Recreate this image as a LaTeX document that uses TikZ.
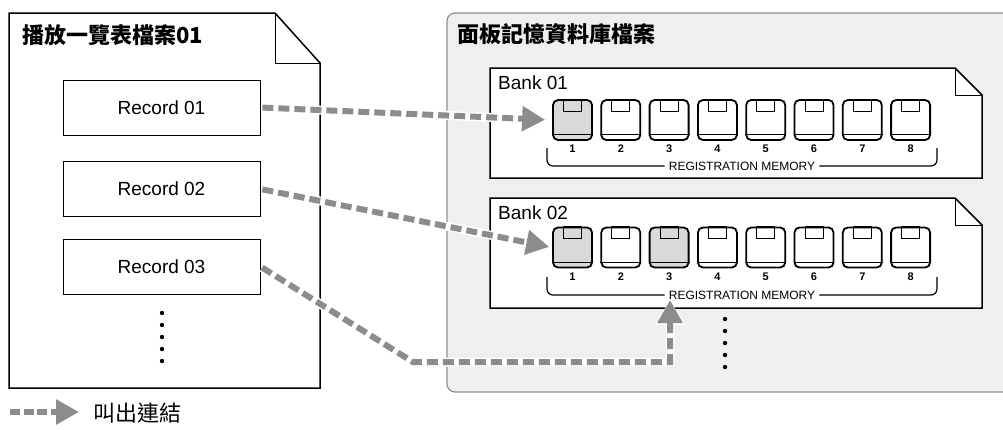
\documentclass[tikz,border=0pt]{standalone}
\usepackage{fontspec}
\setmainfont{Liberation Sans}
\newfontfamily\cjk{Noto Sans CJK TC}
\usetikzlibrary{arrows.meta}

\definecolor{linkgray}{HTML}{8C8C8C}
\definecolor{panelfill}{HTML}{EFEFEF}
\definecolor{panelline}{HTML}{8F8F8F}
\definecolor{keygray}{HTML}{D9D9D9}

\tikzset{
  docline/.style={line width=1.5pt, fill=white},
  foldline/.style={line width=1pt},
  recbox/.style={draw, line width=0.8pt, fill=white, minimum width=197pt,
    minimum height=55pt, font=\fontsize{19}{19}\selectfont},
  regbtn/.style={draw, line width=1.8pt, rounded corners=5pt, minimum width=39pt,
    minimum height=40pt, inner sep=0pt},
  numlbl/.style={font=\bfseries\fontsize{11}{11}\selectfont, inner sep=0pt},
  regtxt/.style={font=\fontsize{12}{12}\selectfont, inner sep=4pt},
  banklbl/.style={anchor=west, font=\fontsize{19}{19}\selectfont, inner sep=0pt},
  bracket/.style={line width=1.2pt, rounded corners=6pt},
  link/.style={draw=linkgray, line width=6pt, dash pattern=on 11pt off 5pt,
    -{Triangle[length=23pt,width=24pt]},
    preaction={draw=white, solid, line width=9pt, -{Triangle[length=25pt,width=29pt]}}},
}

\begin{document}
\begin{tikzpicture}[x=1pt, y=-1pt]
  \useasboundingbox (0,0) rectangle (1003,429);

  % right panel
  \draw[fill=panelfill, draw=panelline, line width=1.2pt, rounded corners=8pt]
    (447,13) rectangle (1015,392);
  \node[anchor=west, inner sep=0pt, font=\cjk\bfseries\fontsize{22}{22}\selectfont]
    (dbtitle) at (457,34) {面板記憶資料庫檔案};

  % playlist file
  \draw[docline] (9,13) -- (275,13) -- (320,63) -- (320,388) -- (9,388) -- cycle;
  \draw[foldline] (275,13) -- (275,63) -- (320,63);
  \node[anchor=west, inner sep=0pt, font=\cjk\bfseries\fontsize{22}{22}\selectfont]
    (lsttitle) at (22,35) {播放一覽表檔案01};

  \node[recbox] (rec1) at (161.5,107.5) {Record 01};
  \node[recbox] (rec2) at (161.5,189) {Record 02};
  \node[recbox] (rec3) at (161.5,266.5) {Record 03};

  \foreach \y in {313,325,...,362}
    \fill (162,\y) circle (2.2pt);

  % bank 01
  \draw[docline] (490,68) -- (955,68) -- (982,95) -- (982,178) -- (490,178) -- cycle;
  \draw[foldline] (955,68) -- (955,95) -- (982,95);
  \node[banklbl] (bank1) at (498,83) {Bank 01};
  \foreach \i/\f in {1/keygray,2/white,3/white,4/white,5/white,6/white,7/white,8/white} {
    \node[regbtn, fill=\f] (a\i) at ({572.5+48.3*(\i-1)},120) {};
    \draw[line width=0.8pt] ([xshift=-9pt]a\i.north) rectangle ([xshift=9pt,yshift=-12pt]a\i.north);
    \draw[line width=1pt] ([yshift=6pt]a\i.south west) -- ([yshift=6pt]a\i.south east);
    \node[numlbl] (an\i) at ([yshift=-8pt]a\i.south) {\i};
  }
  \node[regtxt] (rma) at (742,166) {REGISTRATION MEMORY};
  \draw[bracket] (547,148) |- (rma.west);
  \draw[bracket] (rma.east) -| (937,148);

  % bank 02
  \draw[docline] (490,198) -- (955,198) -- (982,225) -- (982,308) -- (490,308) -- cycle;
  \draw[foldline] (955,198) -- (955,225) -- (982,225);
  \node[banklbl] (bank2) at (498,213) {Bank 02};
  \foreach \i/\f in {1/keygray,2/white,3/keygray,4/white,5/white,6/white,7/white,8/white} {
    \node[regbtn, fill=\f] (b\i) at ({572.5+48.3*(\i-1)},247.5) {};
    \draw[line width=0.8pt] ([xshift=-9pt]b\i.north) rectangle ([xshift=9pt,yshift=-12pt]b\i.north);
    \draw[line width=1pt] ([yshift=6pt]b\i.south west) -- ([yshift=6pt]b\i.south east);
    \node[numlbl] (bn\i) at ([yshift=-8pt]b\i.south) {\i};
  }
  \node[regtxt] (rmb) at (742,295) {REGISTRATION MEMORY};
  \draw[bracket] (547,277) |- (rmb.west);
  \draw[bracket] (rmb.east) -| (937,277);

  \foreach \y in {319,331,...,368}
    \fill (725,\y) circle (2.2pt);

  % links
  \coordinate (bend) at (413,362);
  \coordinate (up) at (670,300);
  \draw[link, shorten <=2pt, shorten >=7pt] (rec1.east) -- (a1.west);
  \draw[link, shorten <=2pt, shorten >=3pt] (rec2.east) -- (b1.west);
  \draw[link, shorten <=2pt] (rec3.east) -- (bend) -| (up);

  % legend
  \coordinate (lgs) at (10,412);
  \coordinate (lge) at (79,412);
  \draw[link, dash pattern=on 10pt off 3.5pt] (lgs) -- (lge);
  \node[anchor=west, inner sep=0pt, font=\cjk\fontsize{22}{22}\selectfont]
    (lgtxt) at (93,413) {叫出連結};
\end{tikzpicture}
\end{document}
